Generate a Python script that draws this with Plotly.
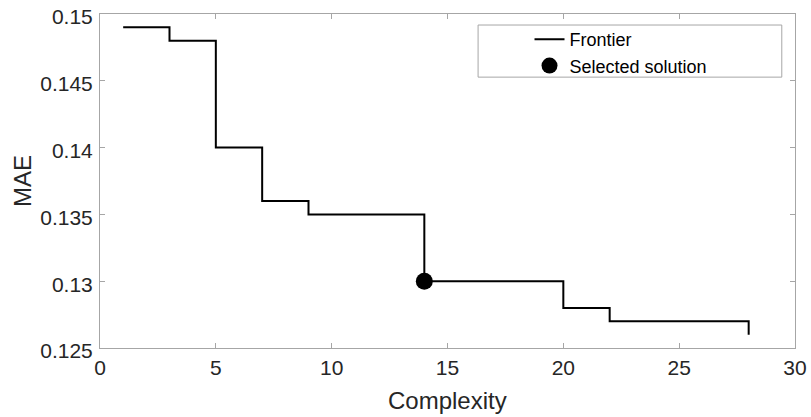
import plotly.graph_objects as go

complexity = [1, 3, 5, 7, 9, 14, 20, 22, 28]
mae = [0.149, 0.148, 0.140, 0.136, 0.135, 0.130, 0.128, 0.127, 0.126]
selected_x = [14]
selected_y = [0.130]
x_ticks = [0, 5, 10, 15, 20, 25, 30]
y_ticks = [0.125, 0.13, 0.135, 0.14, 0.145, 0.15]
y_tick_labels = ["0.125", "0.13", "0.135", "0.14", "0.145", "0.15"]

FONT = "Liberation Sans, Arial, Helvetica, sans-serif"
TXT = "#262626"
AX = "#a6a6a6"

fig = go.Figure()
fig.add_trace(go.Scatter(
    x=complexity, y=mae, mode="lines", name="Frontier",
    line=dict(color="black", width=2, shape="hv"),
))
fig.add_trace(go.Scatter(
    x=selected_x, y=selected_y, mode="markers", name="Selected solution",
    marker=dict(color="black", size=17),
))

axis_common = dict(
    showgrid=False, zeroline=False, showline=True, linecolor=AX, linewidth=1,
    mirror="ticks", ticks="inside", ticklen=5, tickcolor=AX, automargin=False,
    ticklabeloverflow="allow",
    tickfont=dict(family=FONT, size=21, color=TXT),
)
fig.update_xaxes(range=[0, 30], tickvals=x_ticks, ticktext=[str(v) for v in x_ticks],
                 ticklabelstandoff=1, **axis_common)
fig.update_yaxes(range=[0.125, 0.15], tickvals=y_ticks, ticktext=y_tick_labels,
                 ticklabelstandoff=2, ticklabelshift=3, **axis_common)

# axis titles
fig.add_annotation(text="Complexity", xref="paper", yref="paper", x=0.5, y=0,
                   yshift=-52, xanchor="center", yanchor="middle", showarrow=False,
                   font=dict(family=FONT, size=24, color=TXT))
fig.add_annotation(text="MAE", xref="paper", yref="paper", x=0, y=0.5,
                   xshift=-78, xanchor="center", yanchor="middle", showarrow=False,
                   textangle=-90, font=dict(family=FONT, size=24, color=TXT))

# legend box
fig.add_shape(type="rect", xref="paper", yref="paper",
              x0=0.544, x1=0.981, y0=0.811, y1=0.967,
              line=dict(color=AX, width=1), fillcolor="white", layer="below")

fig.update_layout(
    width=811, height=417,
    margin=dict(l=100, r=16, t=14, b=69),
    paper_bgcolor="white", plot_bgcolor="white",
    showlegend=True,
    legend=dict(x=0.618, y=0.979, xanchor="left", yanchor="top",
                bgcolor="rgba(0,0,0,0)", borderwidth=0,
                font=dict(family=FONT, size=18, color="black"),
                tracegroupgap=0, itemwidth=30),
)

fig.write_html(
    "out.html",
    config={"displayModeBar": False},
    post_script="document.body.style.margin='0';document.body.style.overflow='hidden';",
)
